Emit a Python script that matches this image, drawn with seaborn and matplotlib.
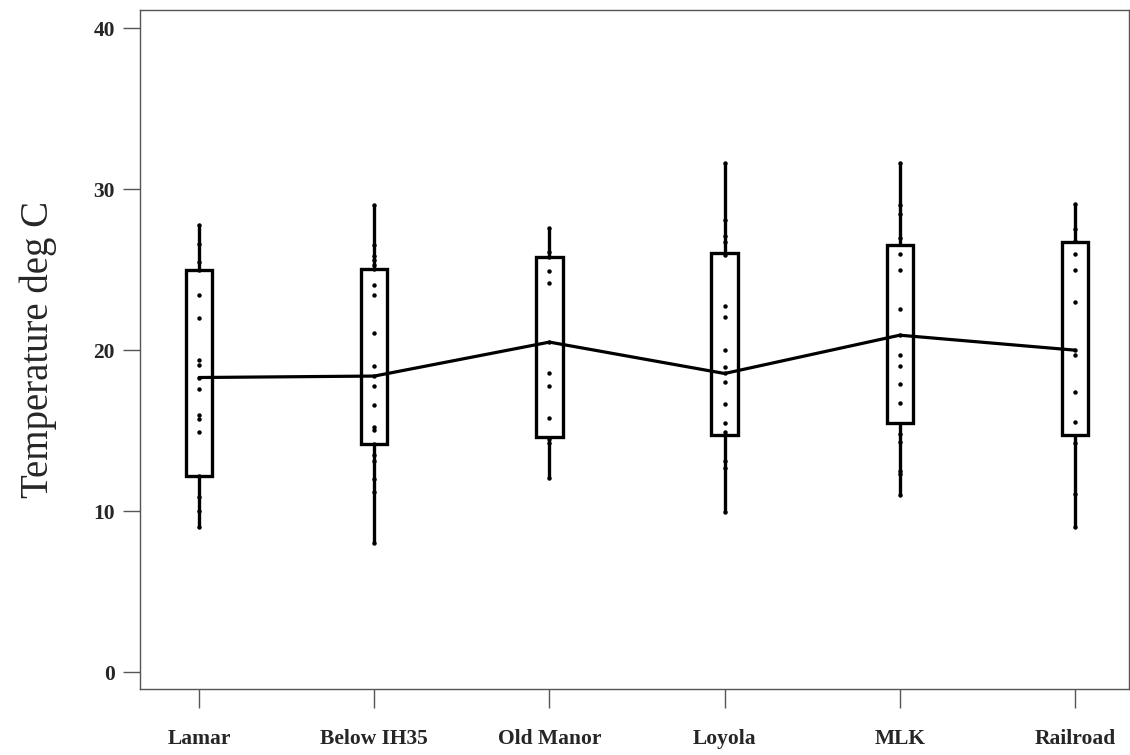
import numpy as np
import pandas as pd
import seaborn as sns
import matplotlib.pyplot as plt

sns.set_style("ticks")
plt.rcParams["font.family"] = ["Liberation Serif", "DejaVu Serif"]

# site names along the creek
sites = ["Lamar", "Below IH35", "Old Manor", "Loyola", "MLK", "Railroad"]

# individual readings (deg C)
lamar = [27.8, 26.6, 25.5, 25.0, 23.4, 22.0, 19.4, 19.05, 18.3, 17.56, 16.0, 15.7, 14.9, 12.2, 10.9, 10.0, 9.0]
below_ih35 = [29.0, 26.56, 25.86, 25.63, 25.28, 25.03, 24.04, 23.42, 21.04, 19.03, 18.39, 17.76,
              16.58, 15.24, 15.03, 14.16, 13.48, 13.1, 11.99, 11.2, 8.0]
old_manor = [27.56, 26.1, 25.76, 24.93, 24.18, 20.5, 18.6, 17.8, 15.8, 14.45, 14.2, 12.03]
loyola = [31.6, 28.06, 27.08, 26.69, 25.9, 22.73, 22.03, 20.0, 18.94, 18.6, 18.03, 16.65,
          15.45, 14.89, 13.1, 12.65, 9.96]
mlk = [31.63, 29.0, 28.49, 27.0, 26.0, 25.0, 22.53, 20.93, 19.73, 19.0, 17.9, 16.73,
       14.82, 14.27, 12.48, 12.28, 10.99]
railroad = [29.07, 27.5, 26.79, 26.0, 25.0, 23.0, 20.04, 19.69, 17.41, 15.55, 14.2, 11.04, 8.99]

# box edges and the centre line joining the sites
box_low = [12.2, 14.16, 14.6, 14.72, 15.49, 14.72]
box_high = [25.0, 25.03, 25.8, 26.04, 26.56, 26.75]
centre = [18.3, 18.39, 20.5, 18.55, 20.93, 20.0]

readings = [lamar, below_ih35, old_manor, loyola, mlk, railroad]
df = pd.DataFrame({
    "Site": np.repeat(sites, [len(r) for r in readings]),
    "Temp": np.concatenate(readings),
})

fig = plt.figure(figsize=(11.3, 7.55), dpi=100)
ax = fig.add_axes([0.124, 0.0874, 0.875, 0.899])

pos = np.arange(len(sites))

# whiskers: full range of readings
ax.vlines(pos, [min(r) for r in readings], [max(r) for r in readings],
          color="black", linewidth=2.4, zorder=2)

# boxes
ax.bar(pos, np.array(box_high) - np.array(box_low), bottom=box_low, width=0.15,
       fill=True, facecolor="white", edgecolor="black", linewidth=2.4, zorder=3)

# centre line across sites
sns.lineplot(x=pos, y=centre, color="black", linewidth=2.3, ax=ax, zorder=4)

# the readings themselves
sns.stripplot(data=df, x="Site", y="Temp", order=sites, jitter=False,
              color="black", size=3.2, ax=ax, zorder=5)

ax.set_xlim(-0.337, 5.308)
ax.set_ylim(-1.056, 41.12)
ax.set_yticks([0, 10, 20, 30, 40])
ax.set_xticks(pos)
ax.set_xticklabels(sites)
ax.set_xlabel("")
ax.set_ylabel("Temperature deg C", fontsize=28, labelpad=26)

for sp in ax.spines.values():
    sp.set_color("#555555")
    sp.set_linewidth(1.0)
ax.tick_params(axis="both", length=12, width=1.0, color="#555555",
               labelsize=15.5, pad=6)
ax.tick_params(axis="x", length=14, pad=15)
for lab in ax.get_xticklabels() + ax.get_yticklabels():
    lab.set_fontweight("bold")
for lab in ax.get_yticklabels():
    lab.set_horizontalalignment("right")

fig.savefig("out.png", dpi=100)
